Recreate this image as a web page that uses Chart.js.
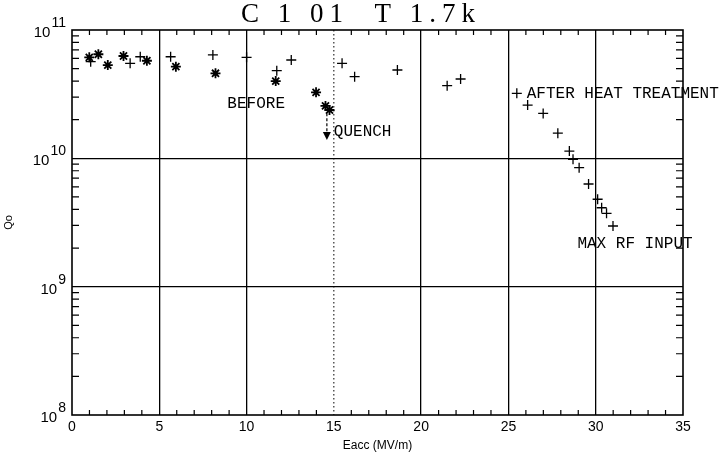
<!DOCTYPE html>
<html>
<head>
<meta charset="utf-8">
<script src="https://cdn.jsdelivr.net/npm/chart.js@4"></script>
<style>
  html, body { margin: 0; padding: 0; background: #fff; }
</style>
</head>
<body>
<canvas id="qChart" width="721" height="458"></canvas>
<script>
// Cavity C 1 01 at 1.7 K: Qo against accelerating field
const beforeEacc = [0.99, 1.51, 2.05, 2.95, 4.29, 5.95, 8.22, 11.67, 13.98, 14.52, 14.75];
const beforeQo = [6.12e10, 6.47e10, 5.33e10, 6.27e10, 5.76e10, 5.18e10, 4.6e10, 4.0e10, 3.27e10, 2.56e10, 2.38e10];

const afterEacc = [1.07, 3.33, 3.91, 5.65, 8.07, 10.0, 11.73, 12.56, 15.47, 16.19, 18.64, 21.49, 22.26,
  25.48, 26.10, 26.99, 27.83, 28.49, 28.70, 29.05, 29.59, 30.11, 30.34, 30.62, 30.99];
const afterQo = [5.66e10, 5.5e10, 6.19e10, 6.19e10, 6.39e10, 6.12e10, 4.82e10, 5.84e10, 5.5e10, 4.33e10, 4.88e10, 3.68e10, 4.15e10,
  3.21e10, 2.6e10, 2.24e10, 1.57e10, 1.14e10, 9.83e9, 8.46e9, 6.31e9, 4.8e9, 4.12e9, 3.73e9, 2.97e9];

const xTicks = [0, 5, 10, 15, 20, 25, 30, 35];
const decades = [8, 9, 10, 11];

// text notes in data coordinates
const notes = [
  { text: 'BEFORE', x: 8.9, y: 2.67e10 },
  { text: 'QUENCH', x: 15.0, y: 1.6e10 },
  { text: 'AFTER HEAT TREATMENT', x: 26.05, y: 3.2e10 },
  { text: 'MAX RF INPUT', x: 28.95, y: 2.15e9 }
];
const quenchArrow = { x: 14.6, from: 2.25e10, to: 1.39e10 };

const isDecade = v => Math.abs(Math.log10(v) - Math.round(Math.log10(v))) < 1e-9;

const frameAndMarks = {
  id: 'frameAndMarks',
  afterDraw(chart) {
    const { ctx, chartArea: a, scales: { x, y } } = chart;
    ctx.save();
    ctx.strokeStyle = '#000';
    ctx.fillStyle = '#000';

    // dotted line at 15 MV/m
    ctx.lineWidth = 1;
    ctx.setLineDash([1.5, 2.5]);
    ctx.beginPath();
    ctx.moveTo(x.getPixelForValue(15), a.top);
    ctx.lineTo(x.getPixelForValue(15), a.bottom);
    ctx.stroke();

    // quench arrow
    const ax = x.getPixelForValue(quenchArrow.x);
    const ay0 = y.getPixelForValue(quenchArrow.from);
    const ay1 = y.getPixelForValue(quenchArrow.to);
    ctx.lineWidth = 1.2;
    ctx.setLineDash([3, 2]);
    ctx.beginPath();
    ctx.moveTo(ax, ay0);
    ctx.lineTo(ax, ay1 - 6);
    ctx.stroke();
    ctx.setLineDash([]);
    ctx.beginPath();
    ctx.moveTo(ax - 4, ay1 - 8);
    ctx.lineTo(ax + 4, ay1 - 8);
    ctx.lineTo(ax, ay1);
    ctx.closePath();
    ctx.fill();

    // inward minor ticks
    ctx.lineWidth = 1.2;
    ctx.beginPath();
    for (let v = 1; v < 35; v++) {
      if (v % 5 === 0) continue;
      const px = x.getPixelForValue(v);
      ctx.moveTo(px, a.bottom); ctx.lineTo(px, a.bottom - 5);
      ctx.moveTo(px, a.top); ctx.lineTo(px, a.top + 5);
    }
    for (let d = 8; d < 11; d++) {
      for (let m = 2; m <= 9; m++) {
        const py = y.getPixelForValue(m * Math.pow(10, d));
        ctx.moveTo(a.left, py); ctx.lineTo(a.left + 7, py);
        ctx.moveTo(a.right, py); ctx.lineTo(a.right - 7, py);
      }
    }
    ctx.stroke();

    // frame
    ctx.lineWidth = 1.6;
    ctx.strokeRect(a.left, a.top, a.right - a.left, a.bottom - a.top);

    // y labels as powers of ten
    ctx.textBaseline = 'middle';
    ctx.textAlign = 'left';
    y.ticks.filter(t => isDecade(t.value)).forEach(t => {
      const py = y.getPixelForValue(t.value);
      const exp = String(Math.round(Math.log10(t.value)));
      ctx.font = '14px "Liberation Sans"';
      const we = ctx.measureText(exp).width;
      ctx.font = '15px "Liberation Sans"';
      const wb = ctx.measureText('10').width;
      const right = 66;
      ctx.fillText('10', right - we - wb - 1, py + 3);
      ctx.font = '14px "Liberation Sans"';
      ctx.fillText(exp, right - we, py - 7);
    });

    // notes
    ctx.font = '16px "Liberation Mono"';
    notes.forEach(n => {
      ctx.fillText(n.text, x.getPixelForValue(n.x), y.getPixelForValue(n.y));
    });

    // title
    ctx.font = '27px "Liberation Serif"';
    ctx.letterSpacing = '6px';
    ctx.textAlign = 'center';
    ctx.textBaseline = 'alphabetic';
    ctx.fillText('C 1 01  T 1.7k', 361, 22);
    ctx.restore();
  }
};

new Chart(document.getElementById('qChart').getContext('2d'), {
  type: 'scatter',
  data: {
    datasets: [
      {
        label: 'before',
        data: beforeEacc.map((v, i) => ({ x: v, y: beforeQo[i] })),
        pointStyle: 'star',
        radius: 5,
        borderWidth: 1.8,
        borderColor: '#000',
        backgroundColor: '#000'
      },
      {
        label: 'after heat treatment',
        data: afterEacc.map((v, i) => ({ x: v, y: afterQo[i] })),
        pointStyle: 'cross',
        radius: 5,
        borderWidth: 1.3,
        borderColor: '#000',
        backgroundColor: '#000'
      }
    ]
  },
  options: {
    responsive: false,
    animation: false,
    layout: { padding: { top: 30, right: 38, left: 0, bottom: 0 } },
    plugins: {
      legend: { display: false },
      tooltip: { enabled: false }
    },
    scales: {
      x: {
        type: 'linear',
        min: 0,
        max: 35,
        afterFit: s => { s.height = 43; },
        afterBuildTicks: s => { s.ticks = xTicks.map(v => ({ value: v })); },
        ticks: { color: '#000', font: { family: 'Liberation Sans', size: 14 }, padding: 4 },
        grid: {
          drawTicks: false,
          lineWidth: 1.3,
          color: c => (c.tick && c.tick.value > 0 && c.tick.value < 35 && c.tick.value !== 15) ? '#000' : 'rgba(0,0,0,0)'
        },
        border: { display: false },
        title: {
          display: true,
          text: 'Eacc (MV/m)',
          color: '#000',
          font: { family: 'Liberation Sans', size: 12 },
          padding: { top: 0, bottom: 5 }
        }
      },
      y: {
        type: 'logarithmic',
        min: 1e8,
        max: 1e11,
        afterFit: s => { s.width = 72; },
        afterBuildTicks: s => { s.ticks = decades.map(d => ({ value: Math.pow(10, d) })); },
        ticks: { display: false },
        grid: {
          drawTicks: false,
          lineWidth: 1.3,
          color: c => (c.tick && c.tick.value > 1e8 && c.tick.value < 1e11) ? '#000' : 'rgba(0,0,0,0)'
        },
        border: { display: false },
        title: {
          display: true,
          text: 'Qo',
          color: '#000',
          font: { family: 'Liberation Sans', size: 11 },
          padding: { top: 2, bottom: 0 }
        }
      }
    }
  },
  plugins: [frameAndMarks]
});
</script>
</body>
</html>
